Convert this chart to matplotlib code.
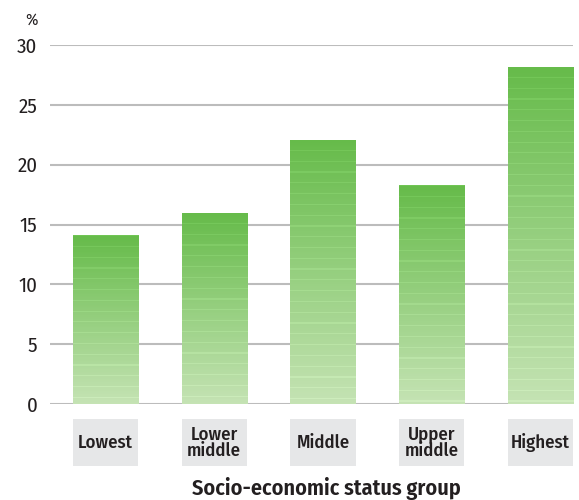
import numpy as np
import matplotlib
matplotlib.use("Agg")
import matplotlib.pyplot as plt
from matplotlib.patches import Rectangle
import matplotlib.transforms as mtransforms

# Dati
categorie = ["Lowest", "Lower\nmiddle", "Middle", "Upper\nmiddle", "Highest"]
valori = [14.1, 16.0, 22.1, 18.3, 28.2]
yticks = [0, 5, 10, 15, 20, 25, 30]

plt.rcParams['font.family'] = ['Fira Sans Condensed', 'DejaVu Sans']
testo = "#231f20"

fig = plt.figure(figsize=(5.79, 5.0), dpi=100)
ax = fig.add_axes([50 / 579, 1 - 404 / 500, 523 / 579, 359 / 500])

x = np.arange(len(categorie))
larghezza = 0.6
barre = ax.bar(x, valori, width=larghezza, color="none", zorder=3)

# gradiente verde con righe orizzontali chiare
top = np.array([102, 187, 74]) / 255
bottom = np.array([197, 227, 180]) / 255
for b in barre:
    h = b.get_height()
    n = int(h * 10)
    t = np.linspace(1, 0, n)[:, None]
    col = bottom + (top - bottom) * t
    righe = (np.arange(n) % 9 == 0)[:, None]
    col = np.where(righe, col + 0.04, col).clip(0, 1)
    img = col[:, None, :]
    im = ax.imshow(img, extent=[b.get_x(), b.get_x() + b.get_width(), 0, h],
                   aspect="auto", zorder=3, interpolation="nearest")
    im.set_clip_path(b)

ax.set_xlim(-0.51, 4.30)
ax.set_ylim(0, 30)
ax.set_yticks(yticks)
ax.set_yticklabels([str(v) for v in yticks], fontsize=15, color=testo)
ax.yaxis.grid(True, color="#bcbcbc", linewidth=1.5, zorder=0)
ax.set_axisbelow(True)
ax.tick_params(axis="y", length=0, pad=9)
ax.set_xticks([])
for s in ax.spines.values():
    s.set_visible(False)

# etichette delle categorie dentro riquadri grigi
trans = mtransforms.blended_transform_factory(ax.transData, ax.transAxes)
for xi, nome in zip(x, categorie):
    ax.add_patch(Rectangle((xi - larghezza / 2, -0.173), larghezza, 0.131,
                           transform=trans, facecolor="#e6e7e8", edgecolor="none",
                           clip_on=False))
    ax.text(xi, -0.1075, nome, transform=trans, ha="center", va="center",
            fontsize=13.5, color=testo, fontweight=500, linespacing=0.9)

ax.text(-0.035, 1.07, "%", transform=ax.transAxes, ha="center", va="center",
        fontsize=12, color=testo)
fig.text(326 / 579, 1 - 489 / 500, "Socio-economic status group", ha="center",
         va="center", fontsize=16, fontweight=600, color=testo)

fig.savefig("out.png", dpi=100)
